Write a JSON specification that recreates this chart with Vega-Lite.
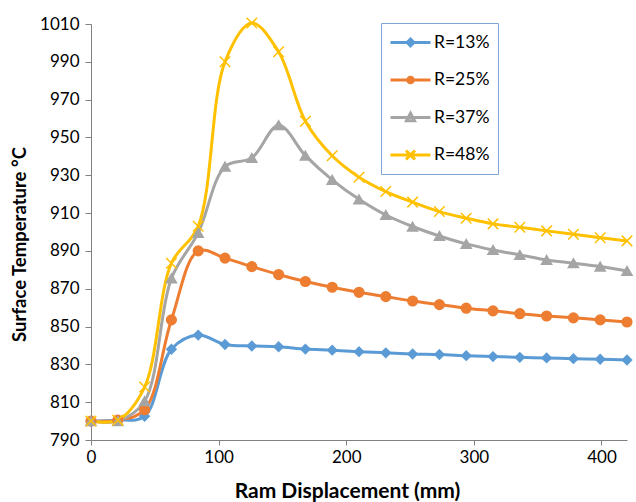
{
  "$schema": "https://vega.github.io/schema/vega-lite/v6.json",
  "width": 536,
  "height": 416,
  "autosize": "none",
  "padding": {"left": 91, "top": 24, "right": 9, "bottom": 62},
  "background": "white",
  "config": {
    "view": {"stroke": null},
    "font": "Lato",
    "axis": {"grid": false, "domainColor": "#808080", "tickColor": "#808080", "labelColor": "#000000", "titleColor": "#000000", "labelFont": "Lato", "titleFont": "Lato", "labelFontSize": 17, "titleFontSize": 18, "titleFontWeight": "bold", "tickSize": 5},
    "legend": {"title": null, "orient": "none", "legendX": 290, "legendY": -1, "padding": 8, "strokeColor": "#7fa7d6", "fillColor": "white",
           "labelFont": "Lato", "labelFontSize": 17.5, "labelColor": "#000000", "symbolSize": 400, "symbolStrokeWidth": 3, "symbolOffset": 10, "labelOffset": 12, "rowPadding": 16.5}
  },
  "data": {"values": [
    {"x":0,"R":"R=13%","T":800},{"x":21,"R":"R=13%","T":800.5},{"x":42,"R":"R=13%","T":802.5},{"x":63,"R":"R=13%","T":838},{"x":84,"R":"R=13%","T":845.5},{"x":105,"R":"R=13%","T":840.5},{"x":126,"R":"R=13%","T":839.7},{"x":147,"R":"R=13%","T":839.3},{"x":168,"R":"R=13%","T":838.1},{"x":189,"R":"R=13%","T":837.5},{"x":210,"R":"R=13%","T":836.7},{"x":231,"R":"R=13%","T":836.1},{"x":252,"R":"R=13%","T":835.5},{"x":273,"R":"R=13%","T":835.2},{"x":294,"R":"R=13%","T":834.6},{"x":315,"R":"R=13%","T":834.1},{"x":336,"R":"R=13%","T":833.7},{"x":357,"R":"R=13%","T":833.4},{"x":378,"R":"R=13%","T":833},{"x":399,"R":"R=13%","T":832.7},{"x":420,"R":"R=13%","T":832.3},
    {"x":0,"R":"R=25%","T":800},{"x":21,"R":"R=25%","T":800.5},{"x":42,"R":"R=25%","T":806},{"x":63,"R":"R=25%","T":853.5},{"x":84,"R":"R=25%","T":890},{"x":105,"R":"R=25%","T":886.2},{"x":126,"R":"R=25%","T":881.7},{"x":147,"R":"R=25%","T":877.5},{"x":168,"R":"R=25%","T":873.8},{"x":189,"R":"R=25%","T":870.8},{"x":210,"R":"R=25%","T":868.1},{"x":231,"R":"R=25%","T":865.8},{"x":252,"R":"R=25%","T":863.5},{"x":273,"R":"R=25%","T":861.6},{"x":294,"R":"R=25%","T":859.7},{"x":315,"R":"R=25%","T":858.3},{"x":336,"R":"R=25%","T":856.8},{"x":357,"R":"R=25%","T":855.6},{"x":378,"R":"R=25%","T":854.6},{"x":399,"R":"R=25%","T":853.5},{"x":420,"R":"R=25%","T":852.4},
    {"x":0,"R":"R=37%","T":800},{"x":21,"R":"R=37%","T":800},{"x":42,"R":"R=37%","T":810.5},{"x":63,"R":"R=37%","T":875.5},{"x":84,"R":"R=37%","T":899.5},{"x":105,"R":"R=37%","T":934.6},{"x":126,"R":"R=37%","T":939.2},{"x":147,"R":"R=37%","T":956.5},{"x":168,"R":"R=37%","T":940.4},{"x":189,"R":"R=37%","T":927.6},{"x":210,"R":"R=37%","T":917.3},{"x":231,"R":"R=37%","T":909},{"x":252,"R":"R=37%","T":902.9},{"x":273,"R":"R=37%","T":897.9},{"x":294,"R":"R=37%","T":893.7},{"x":315,"R":"R=37%","T":890.5},{"x":336,"R":"R=37%","T":887.9},{"x":357,"R":"R=37%","T":885.2},{"x":378,"R":"R=37%","T":883.5},{"x":399,"R":"R=37%","T":881.7},{"x":420,"R":"R=37%","T":879.4},
    {"x":0,"R":"R=48%","T":800},{"x":21,"R":"R=48%","T":800.5},{"x":42,"R":"R=48%","T":818},{"x":63,"R":"R=48%","T":883.5},{"x":84,"R":"R=48%","T":903},{"x":105,"R":"R=48%","T":990},{"x":126,"R":"R=48%","T":1010.5},{"x":147,"R":"R=48%","T":995.3},{"x":168,"R":"R=48%","T":958.6},{"x":189,"R":"R=48%","T":940.3},{"x":210,"R":"R=48%","T":929},{"x":231,"R":"R=48%","T":921.4},{"x":252,"R":"R=48%","T":915.8},{"x":273,"R":"R=48%","T":910.8},{"x":294,"R":"R=48%","T":907.3},{"x":315,"R":"R=48%","T":904.3},{"x":336,"R":"R=48%","T":902.5},{"x":357,"R":"R=48%","T":900.6},{"x":378,"R":"R=48%","T":898.8},{"x":399,"R":"R=48%","T":897},{"x":420,"R":"R=48%","T":895.3}
  ]},
  "encoding": {
    "x": {"field": "x", "type": "quantitative", "scale": {"domain": [0, 420], "nice": false, "zero": false},
          "axis": {"values": [0, 100, 200, 300, 400], "title": "Ram Displacement (mm)", "titleFontSize": 21, "labelFlush": false, "labelPadding": 4, "titlePadding": 15, "titleX": 256}},
    "y": {"field": "T", "type": "quantitative", "scale": {"domain": [790, 1010], "nice": false, "zero": false},
          "axis": {"values": [790, 810, 830, 850, 870, 890, 910, 930, 950, 970, 990, 1010], "format": "d", "title": "Surface Temperature °C", "titleFontSize": 18.5, "tickSize": 6, "labelPadding": 6, "titlePadding": 10, "titleY": 220}}
  },
  "resolve": {"scale": {"shape": "independent", "color": "independent", "size": "independent"}, "legend": {"shape": "independent", "color": "independent", "size": "independent"}},
  "layer": [
    {"mark": {"type": "line", "interpolate": "catmull-rom", "strokeWidth": 3},
     "encoding": {
       "color": {"field": "R", "type": "nominal", "legend": null,
         "scale": {"domain": ["R=13%", "R=25%", "R=37%", "R=48%"], "range": ["#5b9bd5", "#ed7d31", "#a5a5a5", "#ffc000"]}}
     }},
    {"mark": {"type": "point", "filled": true, "strokeWidth": 1.5, "opacity": 1},
     "encoding": {
       "color": {"field": "R", "type": "nominal", "legend": null,
         "scale": {"domain": ["R=13%", "R=25%", "R=37%", "R=48%"], "range": ["#5b9bd5", "#ed7d31", "#a5a5a5", "#ffc000"]}},
       "shape": {"field": "R", "type": "nominal", "legend": null,
         "scale": {"domain": ["R=13%", "R=25%", "R=37%", "R=48%"], "range": ["diamond", "circle", "triangle-up", "M-1,-1L1,1M-1,1L1,-1"]}},
       "size": {"field": "R", "type": "nominal", "legend": null,
         "scale": {"domain": ["R=13%", "R=25%", "R=37%", "R=48%"], "range": [85, 110, 110, 120]}},
       "stroke": {"field": "R", "type": "nominal", "legend": null, "scale": {"domain": ["R=13%", "R=25%", "R=37%", "R=48%"], "range": ["#5b9bd5", "#ed7d31", "#a5a5a5", "#ffc000"]}}
     }},
    {"transform": [{"filter": "datum.x < 0"}],
     "mark": {"type": "point", "filled": false, "strokeWidth": 3, "opacity": 1},
     "encoding": {
       "color": {"field": "R", "type": "nominal",
         "scale": {"domain": ["R=13%", "R=25%", "R=37%", "R=48%"], "range": ["#5b9bd5", "#ed7d31", "#a5a5a5", "#ffc000"]}},
       "shape": {"field": "R", "type": "nominal",
         "scale": {"domain": ["R=13%", "R=25%", "R=37%", "R=48%"], "range": ["M-2,0H2M0,-0.34L0.34,0L0,0.34L-0.34,0Z", "M-2,0H2M-0.28,0A0.28,0.28,0,1,0,0.28,0A0.28,0.28,0,1,0,-0.28,0Z", "M-2,0H2M0,-0.44L0.4,0.32L-0.4,0.32Z", "M-2,0H2M-0.45,-0.45L0.45,0.45M-0.45,0.45L0.45,-0.45"]}},
       "size": {"value": 400}
     }}
  ]
}
